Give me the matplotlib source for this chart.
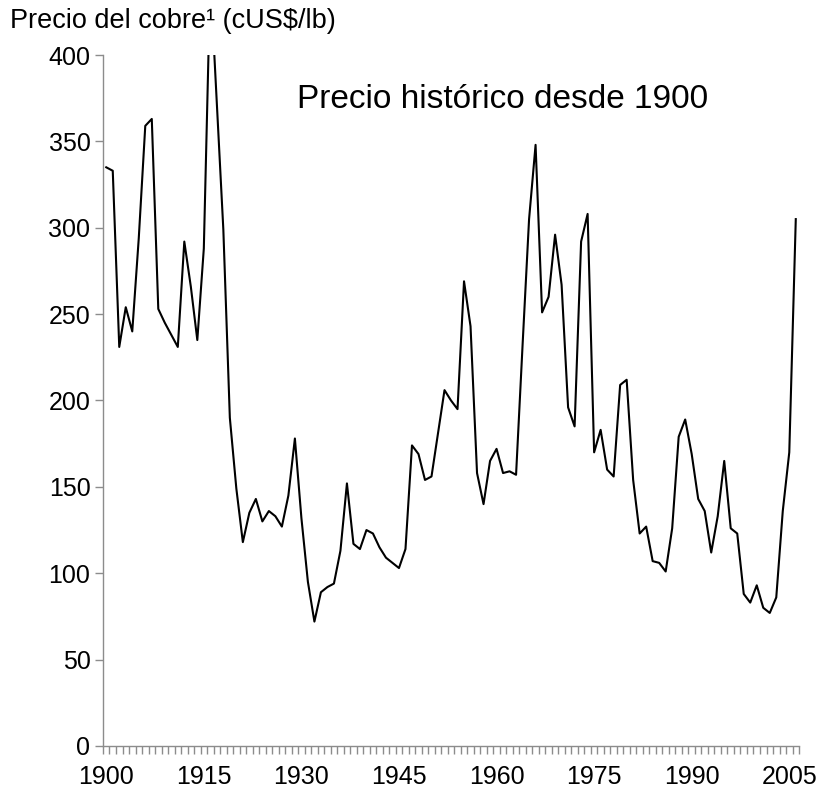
import numpy as np
import matplotlib
matplotlib.use("Agg")
import matplotlib.pyplot as plt
from matplotlib.ticker import FixedLocator

plt.rcParams['font.family'] = ['Liberation Sans', 'DejaVu Sans']

years = np.arange(1900, 2007)
price = [
    335, 333, 231, 254, 240, 294, 359, 363, 253, 245,   # 1900s
    238, 231, 292, 266, 235, 288, 445, 372, 299, 190,   # 1910s
    149, 118, 135, 143, 130, 136, 133, 127, 145, 178,   # 1920s
    132, 95, 72, 89, 92, 94, 113, 152, 117, 114,        # 1930s
    125, 123, 115, 109, 106, 103, 114, 174, 169, 154,   # 1940s
    156, 181, 206, 200, 195, 269, 243, 158, 140, 165,   # 1950s
    172, 158, 159, 157, 232, 305, 348, 251, 260, 296,   # 1960s
    267, 196, 185, 292, 308, 170, 183, 160, 156, 209,   # 1970s
    212, 154, 123, 127, 107, 106, 101, 126, 179, 189,   # 1980s
    169, 143, 136, 112, 133, 165, 126, 123, 88, 83,     # 1990s
    93, 80, 77, 86, 136, 170, 305,                      # 2000s
]
xtick_years = [1900, 1915, 1930, 1945, 1960, 1975, 1990, 2005]
ytick_vals = [0, 50, 100, 150, 200, 250, 300, 350, 400]

ylabel_text = "Precio del cobre\u00b9 (cUS$/lb)"
title_text = "Precio hist\u00f3rico desde 1900"

fig = plt.figure(figsize=(8.38, 7.94), dpi=100)
ax = fig.add_axes([0.1229, 0.0605, 0.8306, 0.8702])

ax.plot(years, price, color='black', linewidth=1.5)

ax.set_xlim(years[0] - 0.5, years[-1] + 0.5)
ax.set_ylim(0, 400)

# category style axis: labels at year, small ticks between years
ax.set_xticks(xtick_years)
ax.xaxis.set_minor_locator(FixedLocator(np.arange(years[0] - 0.5, years[-1] + 1, 1.0)))
ax.tick_params(axis='x', which='major', length=0, pad=14, labelsize=18)
ax.tick_params(axis='x', which='minor', length=6, width=1, color='#8c8c8c', direction='out')

ax.set_yticks(ytick_vals)
ax.tick_params(axis='y', length=6, width=1, color='#8c8c8c', direction='out',
               pad=3, labelsize=18)

for side in ['top', 'right']:
    ax.spines[side].set_visible(False)
for side in ['left', 'bottom']:
    ax.spines[side].set_color('#8c8c8c')
    ax.spines[side].set_linewidth(1)

ax.text(0.279, 0.923, title_text, transform=ax.transAxes, fontsize=24,
        ha='left', va='baseline')
fig.text(10 / 838, 1 - 28 / 794, ylabel_text, fontsize=19.5, ha='left', va='baseline')

fig.savefig("out.png", dpi=100)
